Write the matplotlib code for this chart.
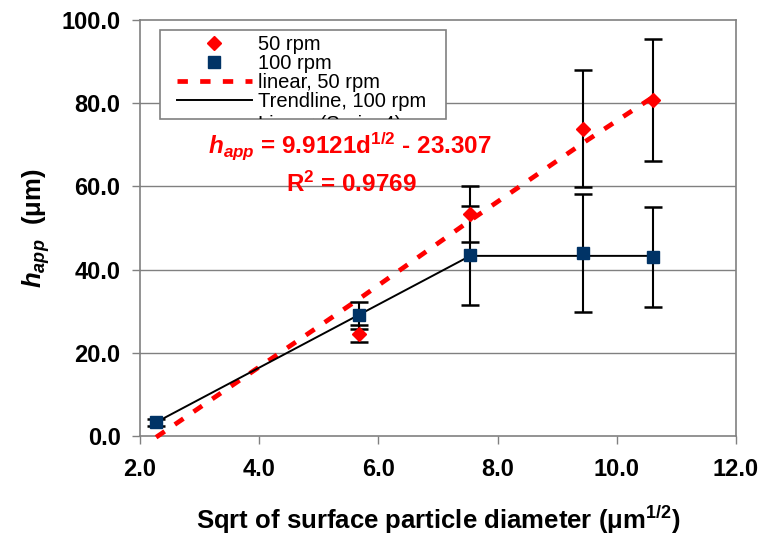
import matplotlib
matplotlib.use("Agg")
import matplotlib.pyplot as plt
from matplotlib.lines import Line2D
from matplotlib.patches import Rectangle
from matplotlib.transforms import Bbox

plt.rcParams['font.family'] = ['Liberation Sans', 'DejaVu Sans']
plt.rcParams['mathtext.fontset'] = 'custom'
plt.rcParams['mathtext.rm'] = 'Liberation Sans'
plt.rcParams['mathtext.bf'] = 'Liberation Sans:bold'
plt.rcParams['mathtext.it'] = 'Liberation Sans:italic'
plt.rcParams['mathtext.bfit'] = 'Liberation Sans:italic:bold'

# data
x_50 = [5.68, 7.54, 9.44, 10.61]
h_50 = [24.6, 53.4, 73.9, 80.8]
err_50 = [2.0, 6.8, 14.0, 14.6]

x_100 = [2.27, 5.68, 7.54, 9.44, 10.61]
h_100 = [3.3, 29.0, 43.4, 44.0, 43.0]
err_100 = [0.8, 3.2, 11.8, 14.2, 12.0]

x_lin50 = [2.27, 5.68, 7.54, 9.44, 10.61]
h_lin50 = [-0.3, 33.0, 51.8, 70.5, 81.5]

x_trend100 = [2.27, 7.54, 10.61]
h_trend100 = [3.3, 43.3, 43.3]

xticks = [2, 4, 6, 8, 10, 12]
yticks = [0, 20, 40, 60, 80, 100]

W, H = 762, 546
fig = plt.figure(figsize=(W / 100, H / 100), dpi=100)
ax = fig.add_axes([140 / W, 1 - 436 / H, (736 - 140) / W, (436 - 20) / H])

gray = '#808080'
for y in yticks[1:-1]:
    ax.axhline(y, color=gray, lw=1.0, zorder=1)

ax.plot(x_lin50, h_lin50, color='#ff0000', lw=3.4, ls=(0, (2.2, 2.6)),
        dash_capstyle='butt', zorder=3, clip_on=False)
ax.plot(x_trend100, h_trend100, color='black', lw=1.4, zorder=4)

ax.errorbar(x_100, h_100, yerr=err_100, fmt='none', ecolor='black',
            elinewidth=1.5, capsize=6.5, capthick=1.8, zorder=5)
ax.errorbar(x_50, h_50, yerr=err_50, fmt='none', ecolor='black',
            elinewidth=1.5, capsize=6.5, capthick=1.8, zorder=5)
ax.plot(x_100, h_100, ls='none', marker='s', ms=8.8, color='#003366', zorder=6)
ax.plot(x_50, h_50, ls='none', marker='D', ms=7, color='#ff0000', zorder=7)

ax.set_xlim(2, 12)
ax.set_ylim(0, 100)
ax.set_xticks(xticks)
ax.set_yticks(yticks)
ax.set_xticklabels([f"{v:.1f}" for v in xticks])
ax.set_yticklabels([f"{v:.1f}" for v in yticks])
ax.tick_params(axis='both', direction='out', length=6, width=1, color=gray,
               labelsize=17)
ax.tick_params(axis='x', pad=10)
ax.tick_params(axis='y', pad=8)
for lab in ax.get_xticklabels() + ax.get_yticklabels():
    lab.set_fontweight('bold')
for s in ax.spines.values():
    s.set_color(gray)
    s.set_linewidth(1.2)

ax.set_xlabel(r"Sqrt of surface particle diameter (μm$^{\mathbf{1/2}}$)",
              fontsize=18.5, fontweight='bold', labelpad=16)
ax.set_ylabel(r"$\mathbfit{h}_{\mathbfit{app}}$  (μm)",
              fontsize=18.5, fontweight='bold', labelpad=7)

# fit equation
ax.text(5.52, 69.6, r"$\mathbfit{h}_{\mathbfit{app}}$ = 9.9121d$^{\mathbf{1/2}}$ - 23.307",
        color='#ff0000', fontsize=17.5, fontweight='bold', ha='center', va='center')
ax.text(5.54, 60.6, r"R$^{\mathbf{2}}$ = 0.9769",
        color='#ff0000', fontsize=17.5, fontweight='bold', ha='center', va='center')

# legend with its own box, the last entry is cut off by the box
fig.add_artist(Rectangle((160 / W, 1 - 119 / H), (446 - 160) / W, (119 - 30) / H,
                         transform=fig.transFigure, facecolor='white',
                         edgecolor=gray, lw=1.2, zorder=8))
handles = [
    Line2D([], [], ls='none', marker='D', ms=7, color='#ff0000'),
    Line2D([], [], ls='none', marker='s', ms=8.8, color='#003366'),
    Line2D([], [], color='#ff0000', lw=3.4, ls=(0, (2.2, 2.6))),
    Line2D([], [], color='black', lw=1.4),
]
labels = ['50 rpm', '100 rpm', 'linear, 50 rpm', 'Trendline, 100 rpm']
leg = fig.legend(handles, labels, loc='upper left',
                 bbox_to_anchor=(177 / W, 1 - 35 / H), bbox_transform=fig.transFigure,
                 frameon=False, fontsize=14.5, borderpad=0, borderaxespad=0,
                 labelspacing=0.0, handlelength=3.7, handletextpad=0.3)
leg.set_zorder(9)
cut = fig.text(258 / W, 1 - 115 / H, "Linear (Series4)", fontsize=14.5,
               va='top', ha='left', zorder=9)
cut.set_clip_box(Bbox.from_extents(160, H - 119, 446, H - 30))

fig.savefig("out.png", dpi=100)
